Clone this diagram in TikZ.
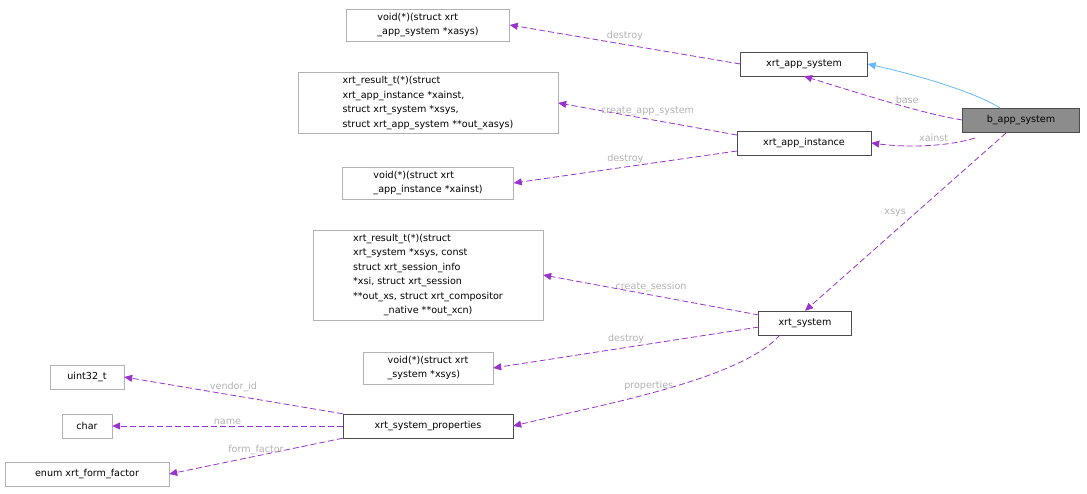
\documentclass[tikz,border=0pt]{standalone}
\usepackage{fontspec}
\setmainfont{DejaVu Sans}
\usetikzlibrary{arrows.meta}
\definecolor{pur}{HTML}{9A32CD}
\definecolor{inhc}{HTML}{63B8FF}
\begin{document}
\begin{tikzpicture}[x=1pt,y=-1pt,
  font=\fontsize{9.6}{14.5}\selectfont,
  box/.style={draw=black!70,fill=white,inner sep=3pt,minimum height=24,align=center},
  lit/.style={draw=black!30,fill=white,inner xsep=3pt,inner ysep=4pt,minimum height=24,align=center},
  rel/.style={draw=pur,line width=0.8pt,dash pattern=on 6pt off 3pt,-{Triangle[length=8pt,width=7pt,fill=pur]}},
  inh/.style={draw=inhc,line width=0.8pt,-{Triangle[length=8pt,width=7pt,fill=inhc]}},
  lab/.style={text=black!30,font=\fontsize{9.6}{10}\selectfont}]
\useasboundingbox (0,0) rectangle (1087,494);
\node[box,fill=black!45,minimum width=117] (b) at (1021,120) {b\_app\_system};
\node[box,minimum width=127] (as) at (804,64) {xrt\_app\_system};
\node[box,minimum width=134] (ai) at (804,143) {xrt\_app\_instance};
\node[box,minimum width=93] (sys) at (805,323) {xrt\_system};
\node[box,minimum width=170] (sp) at (428,426) {xrt\_system\_properties};
\node[lit,minimum width=163,align=left] (f1) at (428,25) {void(*)(struct xrt\\\_app\_system *xasys)};
\node[lit,minimum width=260,align=left] (f2) at (428,103) {xrt\_result\_t(*)(struct\\ xrt\_app\_instance *xainst,\\ struct xrt\_system *xsys,\\ struct xrt\_app\_system **out\_xasys)};
\node[lit,minimum width=171,align=left] (f3) at (428,183) {void(*)(struct xrt\\\_app\_instance *xainst)};
\node[lit,minimum width=230,align=left] (f4) at (428,275) {xrt\_result\_t(*)(struct\\ xrt\_system *xsys, const\\ struct xrt\_session\_info\\ *xsi, struct xrt\_session\\ **out\_xs, struct xrt\_compositor\\ \hspace*{3.2em}\_native **out\_xcn)};
\node[lit,minimum width=130,align=left] (f5) at (428,368) {void(*)(struct xrt\\\_system *xsys)};
\node[lit,minimum width=74] (u) at (87,377) {uint32\_t};
\node[lit,minimum width=50] (c) at (87,426) {char};
\node[lit,minimum width=164] (e) at (87,474) {enum xrt\_form\_factor};

\draw[inh] (1000,108) .. controls (980,95) and (930,78) .. (as.east);
\draw[rel] (b.west) .. controls (930,115) and (880,100) .. (as.south) node[lab,pos=0.45,above] {base};
\draw[rel] (975,138) .. controls (950,146) and (910,148) .. (ai.east) node[lab,pos=0.45,above] {xainst};
\draw[rel] (1006,133) -- (sys.north) node[lab,pos=0.45,left=6] {xsys};
\draw[rel] (as.west) -- (f1.east) node[lab,midway,above] {destroy};
\draw[rel] (737,135) -- (f2.east) node[lab,midway,above] {create\_app\_system};
\draw[rel] (737,151) -- (f3.east) node[lab,midway,above] {destroy};
\draw[rel] (759,315) -- (f4.east) node[lab,midway,above] {create\_session};
\draw[rel] (759,327) -- (f5.east) node[lab,midway,above] {destroy};
\draw[rel] (780,335) .. controls (740,380) and (600,405) .. (sp.east) node[lab,pos=0.55,above] {properties};
\draw[rel] (sp.north west) -- (u.east) node[lab,midway,above] {vendor\_id};
\draw[rel] (sp.west) -- (c.east) node[lab,midway,above=-2] {name};
\draw[rel] (sp.south west) -- (e.east) node[lab,midway,above=-2] {form\_factor};
\end{tikzpicture}
\end{document}
